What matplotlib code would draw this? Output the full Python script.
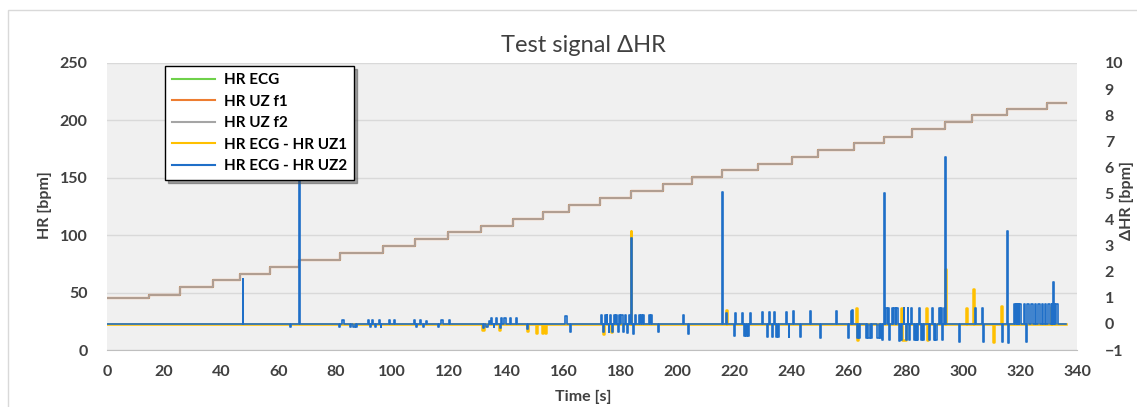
import matplotlib
matplotlib.use("Agg")
import matplotlib.pyplot as plt
from matplotlib.patches import Rectangle

plt.rcParams['font.family'] = ['Lato', 'DejaVu Sans']

# HR staircase (start time of each level [s], level [bpm])
hr_t = [0, 14.8, 25.6, 37.2, 46.6, 57.1, 67.2, 81.6, 96.6, 107.8, 119.7, 131.2, 142.3, 152.8,
        161.8, 172.9, 183.7, 194.8, 205.1, 215.6, 228.3, 240.0, 249.3, 261.9, 272.4, 282.3,
        293.7, 303.3, 315.6, 329.6]
hr_v = [45.6, 48.2, 54.6, 60.7, 66.2, 72.6, 78.4, 84.8, 90.6, 96.4, 102.4, 108.3, 114.1, 120.5,
        126.6, 132.4, 138.2, 144.3, 150.4, 156.5, 162.3, 168.1, 174.2, 180.3, 185.8, 192.2,
        198.3, 204.4, 209.6, 215.4]
t_end = 336.0

# delta HR deviations from zero: (time [s], value [bpm], duration [s])
dhr1 = [
    (131.6, -0.25, 0.4), (137.4, -0.25, 0.4), (147.2, -0.28, 0.4), (150.4, -0.35, 0.4),
    (152.5, -0.35, 0.4), (153.5, -0.35, 0.4), (174.0, -0.40, 0.3), (176.6, -0.30, 0.3),
    (183.5, 3.56, 0.3), (217.0, 0.55, 0.4), (262.4, 0.60, 0.4), (262.9, -0.60, 0.3),
    (278.2, 0.60, 0.5), (278.8, -0.62, 1.2), (287.0, 0.60, 0.4), (287.5, -0.60, 0.4),
    (293.9, 2.10, 0.3), (301.0, 0.60, 0.4), (303.6, 1.35, 0.4), (310.6, -0.70, 0.4),
    (313.2, 0.68, 0.4), (331.0, 0.65, 0.4),
]
dhr2 = [
    (47.5, 1.71, 0.3), (64.1, -0.10, 0.5), (67.2, 6.5, 0.3),
    (81.3, -0.10, 0.4), (82.5, 0.15, 0.5), (85.1, -0.10, 0.5), (86.2, -0.12, 0.8), (87.4, -0.10, 0.4),
    (91.5, 0.15, 0.4), (92.1, -0.12, 0.4), (93.0, 0.15, 0.4), (93.8, -0.12, 0.4), (95.4, 0.15, 0.4),
    (95.9, -0.10, 0.3), (98.8, 0.15, 0.5), (100.5, 0.15, 0.5),
    (107.6, 0.15, 0.4), (108.2, -0.12, 0.4), (109.6, 0.15, 0.4), (110.8, -0.12, 0.4), (111.7, 0.10, 0.4),
    (116.0, -0.12, 0.4), (117.2, 0.15, 0.4), (119.9, 0.15, 0.5),
    (131.8, -0.15, 0.4), (133.0, -0.10, 0.4), (134.0, 0.10, 0.3), (134.7, 0.22, 0.4), (135.5, -0.10, 0.3),
    (136.4, 0.22, 0.4), (137.6, -0.15, 0.4), (138.2, 0.22, 0.4), (139.3, 0.22, 0.4), (141.1, 0.22, 0.4),
    (143.2, 0.22, 0.4), (147.2, -0.20, 0.4), (160.7, 0.30, 0.4), (162.3, -0.30, 0.4),
    (173.3, 0.35, 0.3), (173.8, -0.30, 0.3), (174.5, 0.35, 0.3), (175.1, 0.35, 0.3), (175.8, -0.30, 0.3),
    (176.4, 0.35, 0.3), (177.0, -0.30, 0.3), (177.6, 0.35, 0.3), (178.3, 0.35, 0.5), (179.0, -0.30, 0.3),
    (179.6, 0.35, 0.3), (180.3, 0.35, 0.5), (181.0, -0.30, 0.3), (181.6, 0.35, 0.3), (182.3, -0.35, 0.3),
    (183.0, 0.35, 0.3), (183.7, 3.28, 0.3), (184.3, -0.38, 0.3), (185.2, 0.33, 0.3), (186.4, 0.33, 0.3),
    (187.2, 0.33, 0.3), (187.8, 0.33, 0.3), (189.9, 0.33, 0.4), (190.7, 0.33, 0.3), (193.1, -0.30, 0.4),
    (202.0, 0.33, 0.4), (203.5, -0.37, 0.4), (215.6, 5.07, 0.3),
    (217.0, 0.40, 0.3), (219.7, -0.45, 0.3), (220.2, 0.40, 0.3), (222.6, 0.40, 0.3), (223.4, -0.45, 0.3),
    (224.0, -0.45, 0.3), (224.6, -0.45, 0.3), (225.4, 0.40, 0.3),
    (229.6, 0.45, 0.3), (231.3, -0.50, 0.3), (232.2, 0.45, 0.3), (233.0, -0.50, 0.3), (233.9, 0.45, 0.3),
    (234.5, -0.50, 0.3), (235.3, -0.50, 0.3), (238.0, 0.45, 0.3), (238.9, -0.50, 0.3), (240.6, 0.50, 0.3),
    (243.0, -0.50, 0.3), (246.5, 0.50, 0.3), (249.9, -0.55, 0.3), (255.7, 0.50, 0.3), (259.9, -0.55, 0.3),
    (260.7, 0.50, 0.3), (261.1, 0.55, 0.3), (263.0, -0.55, 0.4), (263.6, -0.55, 0.3),
    (266.0, -0.55, 0.5), (266.8, -0.55, 0.5), (267.7, -0.55, 0.4), (270.0, -0.55, 0.5), (270.8, -0.55, 0.5),
    (271.6, -0.60, 0.4), (272.4, 5.03, 0.3), (272.8, 0.60, 0.6), (273.6, 0.60, 0.5), (274.2, -0.60, 0.3),
    (275.0, 0.60, 0.6), (275.8, 0.60, 0.6), (276.6, 0.60, 0.5), (277.7, -0.65, 0.3), (278.4, -0.60, 0.4),
    (279.2, 0.60, 0.3), (280.0, -0.60, 0.4), (280.6, 0.60, 0.3), (281.1, -0.60, 0.3), (281.7, 0.60, 0.4),
    (282.9, -0.60, 0.4), (283.4, -0.60, 0.4), (284.0, -0.60, 0.4), (284.6, 0.60, 0.3), (285.2, -0.60, 0.3),
    (286.0, -0.60, 0.5), (288.1, -0.60, 0.3), (289.3, 0.60, 0.4), (289.9, -0.60, 0.4), (290.4, -0.60, 0.4),
    (291.6, 0.60, 0.4), (292.2, 0.60, 0.4), (292.8, -0.60, 0.3), (293.4, 0.60, 0.2), (293.7, 6.41, 0.35),
    (298.7, -0.70, 0.3), (304.3, 0.60, 0.3), (306.8, 0.60, 0.3), (307.2, -0.70, 0.3), (313.6, -0.70, 0.3),
    (315.4, 3.57, 0.3), (315.9, -0.75, 0.3),
    (317.9, 0.78, 0.5), (318.5, 0.78, 0.4), (319.0, 0.78, 0.5), (319.6, 0.78, 0.6), (321.4, 0.78, 0.5),
    (322.2, -0.70, 0.2), (322.5, 0.78, 0.5), (324.0, 0.78, 0.6), (325.2, 0.78, 0.6), (326.4, 0.78, 0.6),
    (327.6, 0.78, 0.6), (328.7, 0.78, 0.6), (329.9, 0.78, 0.6), (331.1, 0.78, 0.3), (331.5, 1.60, 0.3),
    (332.0, 0.78, 0.4), (332.6, 0.78, 0.6),
]

x_ticks = list(range(0, 341, 20))
hr_ticks = list(range(0, 251, 50))
dhr_ticks = list(range(-1, 11))

labels = ['HR ECG', 'HR UZ f1', 'HR UZ f2', 'HR ECG - HR UZ1', 'HR ECG - HR UZ2']
colors = ['#6fd14a', '#ed7d31', '#a5a5a5', '#ffc000', '#1f6fc8']
txt = '#404040'


def pulse_line(events):
    xs, ys = [0.0], [0.0]
    for t, v, w in sorted(events):
        xs += [t, t, t + w, t + w]
        ys += [0, v, v, 0]
    xs.append(t_end)
    ys.append(0)
    return xs, ys


W, H = 1137, 407
fig = plt.figure(figsize=(W / 100, H / 100), dpi=100)
fig.patches.append(Rectangle((8 / W, -0.1), 1.2, 1 - 10 / H + 0.1, transform=fig.transFigure,
                             fill=False, edgecolor='#d9d9d9', lw=1))

ax = fig.add_axes([107 / W, 1 - 350 / H, (1077 - 107) / W, (350 - 63) / H])
ax.set_facecolor('#f0f0f0')
ax.set_xlim(0, 340)
ax.set_ylim(0, 250)
ax.set_xticks(x_ticks)
ax.set_yticks(hr_ticks)
ax.grid(axis='y', color='#d9d9d9', lw=1)
ax.set_axisbelow(True)
for s in ['top', 'right', 'left']:
    ax.spines[s].set_visible(False)
ax.spines['bottom'].set_color('#bfbfbf')
ax.tick_params(axis='x', length=0, pad=11, labelsize=11.5, labelcolor=txt)
ax.tick_params(axis='y', length=0, pad=14, labelsize=11.5, labelcolor=txt)

sx = hr_t + [t_end]
sy = hr_v + [hr_v[-1]]
l0, = ax.step(sx, sy, where='post', color=colors[0], lw=1.3, label=labels[0])
l1, = ax.step(sx, sy, where='post', color=colors[1], lw=1.6, label=labels[1])
l2, = ax.step(sx, sy, where='post', color=colors[2], lw=1.2, label=labels[2])

ax2 = ax.twinx()
ax2.set_ylim(-1, 10)
ax2.set_yticks(dhr_ticks)
for s in ax2.spines.values():
    s.set_visible(False)
ax2.tick_params(axis='y', length=0, pad=20, labelsize=11.5, labelcolor=txt)

x1, y1 = pulse_line(dhr1)
x2, y2 = pulse_line(dhr2)
l3, = ax2.plot(x1, y1, color=colors[3], lw=1.8, label=labels[3])
l4, = ax2.plot(x2, y2, color=colors[4], lw=1.2, label=labels[4])

for lbl in ax.get_xticklabels() + ax.get_yticklabels() + ax2.get_yticklabels():
    lbl.set_fontweight('bold')

fig.text(583 / W, 1 - 45 / H, 'Test signal ΔHR', ha='center', va='center', fontsize=17, color=txt)
fig.text(45 / W, 1 - 205 / H, 'HR [bpm]', rotation=90, ha='center', va='center',
         fontsize=11.5, fontweight='bold', color=txt)
fig.text(1127 / W, 1 - 200 / H, 'ΔHR [bpm]', rotation=90, ha='center', va='center',
         fontsize=11.5, fontweight='bold', color=txt)
fig.text(583 / W, 1 - 397 / H, 'Time [s]', ha='center', va='center',
         fontsize=11.5, fontweight='bold', color=txt)

leg = ax2.legend([l0, l1, l2, l3, l4], labels, loc='upper left',
                 bbox_to_anchor=(165 / W, 1 - 66 / H), bbox_transform=fig.transFigure,
                 fancybox=False, shadow=True, framealpha=1, edgecolor='black',
                 prop={'weight': 'bold', 'size': 11}, handlelength=2.8,
                 labelspacing=0.5, borderpad=0.45, handletextpad=0.6, borderaxespad=0)
leg.get_frame().set_linewidth(1.0)
for h in leg.get_lines():
    h.set_linewidth(1.5)

fig.savefig('out.png', dpi=100)
